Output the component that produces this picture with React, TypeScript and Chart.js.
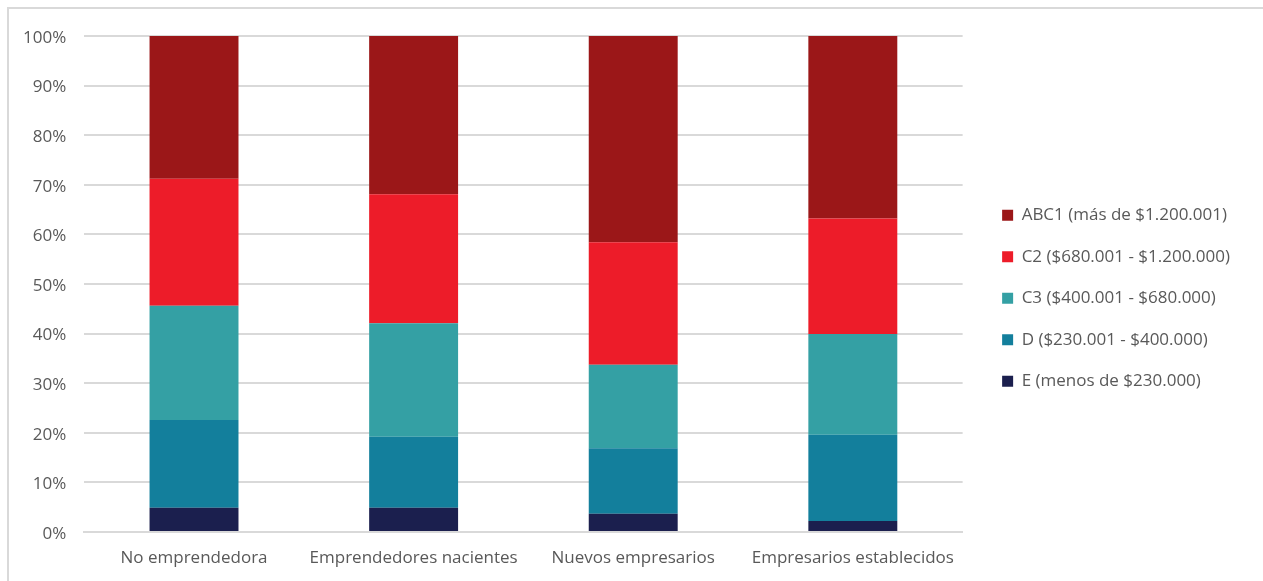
import React, { useEffect, useRef } from "react";
import { Chart, registerables } from "chart.js";

Chart.register(...registerables);

const categories = [
  "No emprendedora",
  "Emprendedores nacientes",
  "Nuevos empresarios",
  "Empresarios establecidos",
];

const seriesNames = [
  "E (menos de $230.000)",
  "D ($230.001 - $400.000)",
  "C3 ($400.001 - $680.000)",
  "C2 ($680.001 - $1.200.000)",
  "ABC1 (más de $1.200.001)",
];

const eValues = [4.9, 4.9, 3.7, 2.2];
const dValues = [17.7, 14.3, 13.2, 17.4];
const c3Values = [23.0, 22.9, 16.8, 20.3];
const c2Values = [25.6, 26.0, 24.7, 23.3];
const abc1Values = [28.8, 31.9, 41.6, 36.8];

const seriesColors = ["#1b1f4e", "#137f9c", "#34a0a4", "#ed1c29", "#9b1718"];

const FONT = "'Open Sans', 'DejaVu Sans', sans-serif";

const legendShift = {
  id: "legendShift",
  afterLayout(chart: any) {
    const lg = chart.legend;
    if (!lg) return;
    lg.left += 15;
    lg.right += 15;
    lg.top -= 12;
    lg.bottom -= 12;
  },
};

export default function App() {
  const canvasRef = useRef<HTMLCanvasElement | null>(null);

  useEffect(() => {
    if (!canvasRef.current) return;
    const values = [eValues, dValues, c3Values, c2Values, abc1Values];
    const chart = new Chart(canvasRef.current, {
      type: "bar",
      data: {
        labels: categories,
        datasets: values.map((v, i) => ({
          label: seriesNames[i],
          data: v,
          backgroundColor: seriesColors[i],
          borderWidth: 0,
          barPercentage: 0.405,
          categoryPercentage: 1,
        })),
      },
      plugins: [legendShift],
      options: {
        responsive: false,
        animation: false,
        layout: { padding: { left: 5, right: 38, top: 36, bottom: 15.6 } },
        plugins: {
          tooltip: { enabled: false },
          legend: {
            position: "right",
            reverse: true,
            labels: {
              boxWidth: 11,
              boxHeight: 11,
              padding: 24.5,
              color: "#595959",
              font: { family: FONT, size: 17 },
            },
          },
        },
        scales: {
          x: {
            stacked: true,
            grid: { display: false, drawTicks: false },
            border: { display: true, color: "#d9d9d9", width: 2 },
            ticks: {
              color: "#595959",
              font: { family: FONT, size: 17 },
              padding: 16,
              maxRotation: 0,
              autoSkip: false,
            },
          },
          y: {
            stacked: true,
            min: 0,
            max: 100,
            grid: { color: "#d9d9d9", lineWidth: 2, drawTicks: false },
            border: { display: false },
            ticks: {
              stepSize: 10,
              color: "#595959",
              font: { family: FONT, size: 17 },
              padding: 18,
              labelOffset: 2,
              callback: (v: any) => v + "%",
            },
          },
        },
      },
    });
    return () => chart.destroy();
  }, []);

  return (
    <div
      style={{
        position: "fixed",
        left: 0,
        top: 0,
        width: 1263,
        height: 581,
        background: "#ffffff",
        overflow: "hidden",
      }}
    >
      <div
        style={{
          position: "absolute",
          left: 7,
          top: 7,
          width: 1300,
          height: 620,
          border: "2px solid #d9d9d9",
          boxSizing: "border-box",
        }}
      />
      <canvas
        ref={canvasRef}
        width={1263}
        height={600}
        style={{ position: "absolute", left: 0, top: 0 }}
      />
    </div>
  );
}
